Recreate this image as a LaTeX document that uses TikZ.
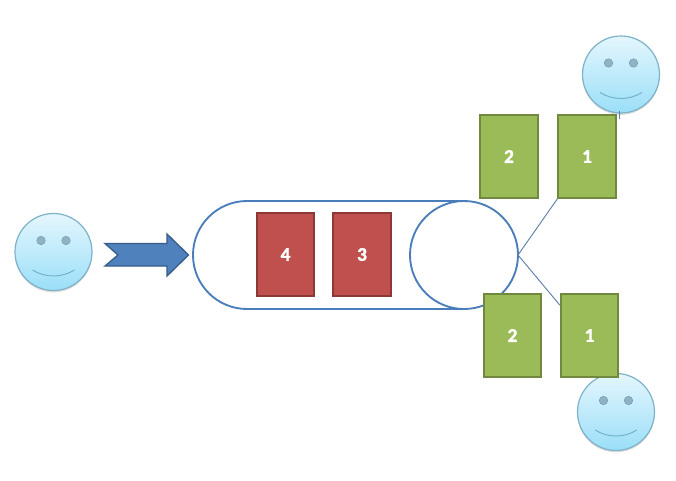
\documentclass[tikz,border=0pt]{standalone}
\usepackage{fontspec}
\setmainfont{Carlito}
\newfontfamily\digitfont[FakeBold=1.6]{Carlito Bold}
\definecolor{capblue}{HTML}{4A7EBB}
\definecolor{arrowfill}{HTML}{4F81BD}
\definecolor{arrowline}{HTML}{385D8A}
\definecolor{redfill}{HTML}{C0504D}
\definecolor{redline}{HTML}{8C3836}
\definecolor{greenfill}{HTML}{9BBB59}
\definecolor{greenline}{HTML}{71893F}
\definecolor{faceline}{HTML}{7FB2C8}
\definecolor{facetop}{HTML}{E4F6FD}
\definecolor{facebot}{HTML}{9ADFF8}
\definecolor{eyecol}{HTML}{8FB3C4}
\definecolor{eyeline}{HTML}{7FA3B5}
\definecolor{smilecol}{HTML}{6FB0CC}
\definecolor{connline}{HTML}{5F7FA8}
\newcommand{\smiley}[2]{%
  \node[facenode] (#2) at (#1) {};
  \filldraw[fill=eyecol,draw=eyeline,line width=0.5pt] ($(#2)+(-12.5,-11.5)$) circle (4.2);
  \filldraw[fill=eyecol,draw=eyeline,line width=0.5pt] ($(#2)+(12.5,-11.5)$) circle (4.2);
  \draw[smilecol,line width=0.7pt] ($(#2)+(-21,18)$) .. controls ($(#2)+(-8,26)$) and ($(#2)+(8,26)$) .. ($(#2)+(21,18)$);
}
\usetikzlibrary{calc,shadows}
\tikzset{
  x=0.75pt,y=-0.75pt,
  facenode/.style={circle,minimum size=57.75pt,inner sep=0pt,draw=faceline,line width=0.9pt,
    top color=facetop,bottom color=facebot,
    drop shadow={shadow xshift=0pt,shadow yshift=-1.4pt,opacity=0.22,fill=black!60}},
  card/.style={rectangle,minimum width=43pt,minimum height=62pt,inner sep=0pt,line width=1.3pt,
    text=white,font=\fontsize{14.5}{17}\digitfont},
  redcard/.style={card,fill=redfill,draw=redline},
  greencard/.style={card,fill=greenfill,draw=greenline},
  capsule/.style={draw=capblue,line width=1.4pt},
  conn/.style={draw=connline,line width=0.7pt},
}
\begin{document}
\begin{tikzpicture}
\useasboundingbox (0,0) rectangle (676,480);
\fill[white] (0,0) rectangle (676,480);

% capsule
\node[capsule,circle,minimum size=81pt,inner sep=0pt] (inner) at (464,255) {};
\draw[capsule] (247,201) -- (464,201) (247,309) -- (464,309)
  (247,201) arc[start angle=90,end angle=270,radius=54,x radius=54,y radius=-54];
\coordinate (mouth) at (518,255);

% arrow
\draw[fill=arrowfill,draw=arrowline,line width=1pt]
  (105,243.5) -- (167,243.5) -- (167,234) -- (188.5,255) -- (167,276) -- (167,266) -- (105,266) -- (118,255) -- cycle;

\smiley{53.5,252}{faceL}
\smiley{621,74.5}{faceT}
\smiley{616,412}{faceB}

% cards
\node[redcard] (r4) at (285.5,254.5) {4};
\node[redcard] (r3) at (362,254.5) {3};
\node[greencard] (gt2) at (509,156.5) {2};
\node[greencard] (gt1) at (587,156.5) {1};
\node[greencard] (gb2) at (512.5,335.5) {2};
\node[greencard] (gb1) at (589.5,335.5) {1};

% connectors
\draw[conn] (mouth) -- (gt1.south west);
\draw[conn] (mouth) -- ($(gb1.north west)+(0,12)$);
\draw[conn] (gt1.north east) ++(3,-3) -- ++(0,8);
\end{tikzpicture}
\end{document}
